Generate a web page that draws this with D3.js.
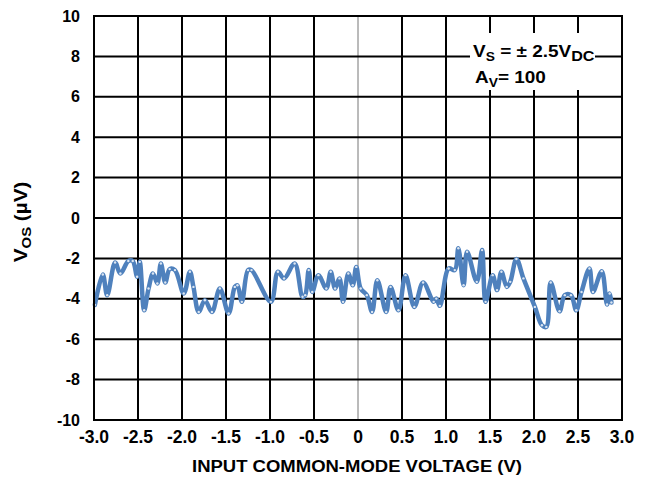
<!DOCTYPE html>
<html><head><meta charset="utf-8">
<script src="https://cdn.jsdelivr.net/npm/d3@7"></script>
<style>body{margin:0;background:#fff;}svg{display:block;font-family:"Liberation Sans",Arial,sans-serif;font-weight:bold;}</style>
</head><body>
<svg id="c" width="648" height="481"></svg>
<script>
const xTicks = [-3.0,-2.5,-2.0,-1.5,-1.0,-0.5,0,0.5,1.0,1.5,2.0,2.5,3.0];
const xTickLabels = ["-3.0","-2.5","-2.0","-1.5","-1.0","-0.5","0","0.5","1.0","1.5","2.0","2.5","3.0"];
const yTicks = [-10,-8,-6,-4,-2,0,2,4,6,8,10];
const vcm = [-2.99,-2.90,-2.85,-2.76,-2.70,-2.61,-2.56,-2.51,-2.48,-2.43,-2.38,-2.33,-2.28,-2.24,-2.19,-2.14,-2.08,-1.98,-1.91,-1.87,-1.81,-1.74,-1.66,-1.57,-1.47,-1.40,-1.37,-1.32,-1.25,-1.21,-0.99,-0.91,-0.84,-0.72,-0.63,-0.60,-0.56,-0.52,-0.45,-0.36,-0.31,-0.26,-0.21,-0.17,-0.11,-0.06,-0.02,0.03,0.10,0.16,0.22,0.32,0.37,0.46,0.54,0.64,0.74,0.86,0.89,0.93,1.03,1.10,1.14,1.20,1.24,1.35,1.41,1.45,1.53,1.58,1.63,1.69,1.73,1.80,1.88,2.01,2.09,2.14,2.19,2.29,2.35,2.42,2.48,2.54,2.63,2.67,2.77,2.83,2.86,2.88];
const vos = [-4.30,-2.80,-3.82,-2.20,-2.75,-2.13,-2.13,-2.91,-2.17,-4.57,-3.49,-2.75,-3.24,-2.25,-3.19,-2.53,-2.58,-3.74,-2.66,-3.41,-4.65,-4.07,-4.65,-3.49,-4.73,-3.41,-3.33,-4.15,-2.58,-2.58,-4.15,-2.66,-2.99,-2.25,-3.90,-3.82,-2.58,-3.66,-2.83,-3.49,-2.66,-3.49,-2.99,-4.15,-2.75,-3.33,-2.42,-3.49,-3.82,-4.65,-3.08,-4.65,-3.41,-4.57,-2.83,-4.40,-3.19,-4.15,-3.99,-4.35,-2.50,-2.58,-1.50,-3.33,-1.67,-3.16,-1.59,-4.15,-2.83,-3.57,-2.66,-3.41,-3.16,-2.03,-2.99,-4.40,-5.31,-5.39,-3.19,-4.62,-3.82,-3.82,-4.57,-3.66,-2.50,-3.66,-2.63,-4.28,-3.74,-4.18];

const svg = d3.select("#c");
const L=94, R=622, T=16, B=420;
const x = d3.scaleLinear().domain([-3,3]).range([L,R]);
const y = d3.scaleLinear().domain([-10,10]).range([B,T]);

// grid
const g = svg.append("g");
g.selectAll(".vx").data(xTicks).join("line")
  .attr("x1",d=>x(d)).attr("x2",d=>x(d)).attr("y1",T).attr("y2",B)
  .attr("stroke",d=>d===0?"#777":"#000").attr("stroke-width",d=>d===0?1:2);
g.selectAll(".hy").data(yTicks).join("line")
  .attr("y1",d=>y(d)).attr("y2",d=>y(d)).attr("x1",L).attr("x2",R)
  .attr("stroke","#000").attr("stroke-width",2);

// annotation box background
svg.append("rect").attr("x",470).attr("y",33).attr("width",125).attr("height",57).attr("fill","#fff");

// data line
const pts = vcm.map((v,i)=>[v,vos[i]]);
const line = d3.line().x(d=>x(d[0])).y(d=>y(d[1])).curve(d3.curveCatmullRom.alpha(0.5));
svg.append("path").datum(pts).attr("d",line).attr("fill","none")
  .attr("stroke","#4f81bd").attr("stroke-width",4.5).attr("stroke-linejoin","round").attr("stroke-linecap","round");
svg.selectAll(".pt").data(pts).join("circle")
  .attr("cx",d=>x(d[0])).attr("cy",d=>y(d[1])).attr("r",1.2).attr("fill","#fff").attr("opacity",0.8);

// border
svg.append("rect").attr("x",L).attr("y",T).attr("width",R-L).attr("height",B-T)
  .attr("fill","none").attr("stroke","#000").attr("stroke-width",2);

// tick labels
svg.selectAll(".yl").data(yTicks).join("text")
  .attr("x",80).attr("y",d=>y(d)).attr("dy","0.35em").attr("text-anchor","end")
  .attr("font-size",16).text(d=>d);
svg.selectAll(".xl").data(xTicks).join("text")
  .attr("x",d=>x(d)).attr("y",443).attr("text-anchor","middle")
  .attr("font-size",17.5).text((d,i)=>xTickLabels[i]);

// axis titles
svg.append("text").attr("x",192).attr("y",472).attr("font-size",16)
  .attr("textLength",330).attr("lengthAdjust","spacingAndGlyphs")
  .text("INPUT COMMON-MODE VOLTAGE (V)");
const yt = svg.append("g").attr("transform","translate(27,222) rotate(-90) scale(1.15,1)")
  .append("text").attr("text-anchor","middle").attr("font-size",18);
yt.append("tspan").text("V");
yt.append("tspan").attr("font-size",13).attr("dy",4).text("OS");
yt.append("tspan").attr("dy",-4).text(" (µV)");

// annotation
const a1 = svg.append("g").attr("transform","translate(473,57) scale(1.15,1)")
  .append("text").attr("font-size",16.5);
a1.append("tspan").text("V");
a1.append("tspan").attr("font-size",12).attr("dy",4).text("S");
a1.append("tspan").attr("dy",-4).text(" = ± 2.5V");
a1.append("tspan").attr("font-size",14).attr("dy",4).text("DC");
const a2 = svg.append("g").attr("transform","translate(475,83) scale(1.15,1)")
  .append("text").attr("font-size",16.5);
a2.append("tspan").text("A");
a2.append("tspan").attr("font-size",12).attr("dy",4).text("V");
a2.append("tspan").attr("dy",-4).text("= 100");
</script>
</body></html>
